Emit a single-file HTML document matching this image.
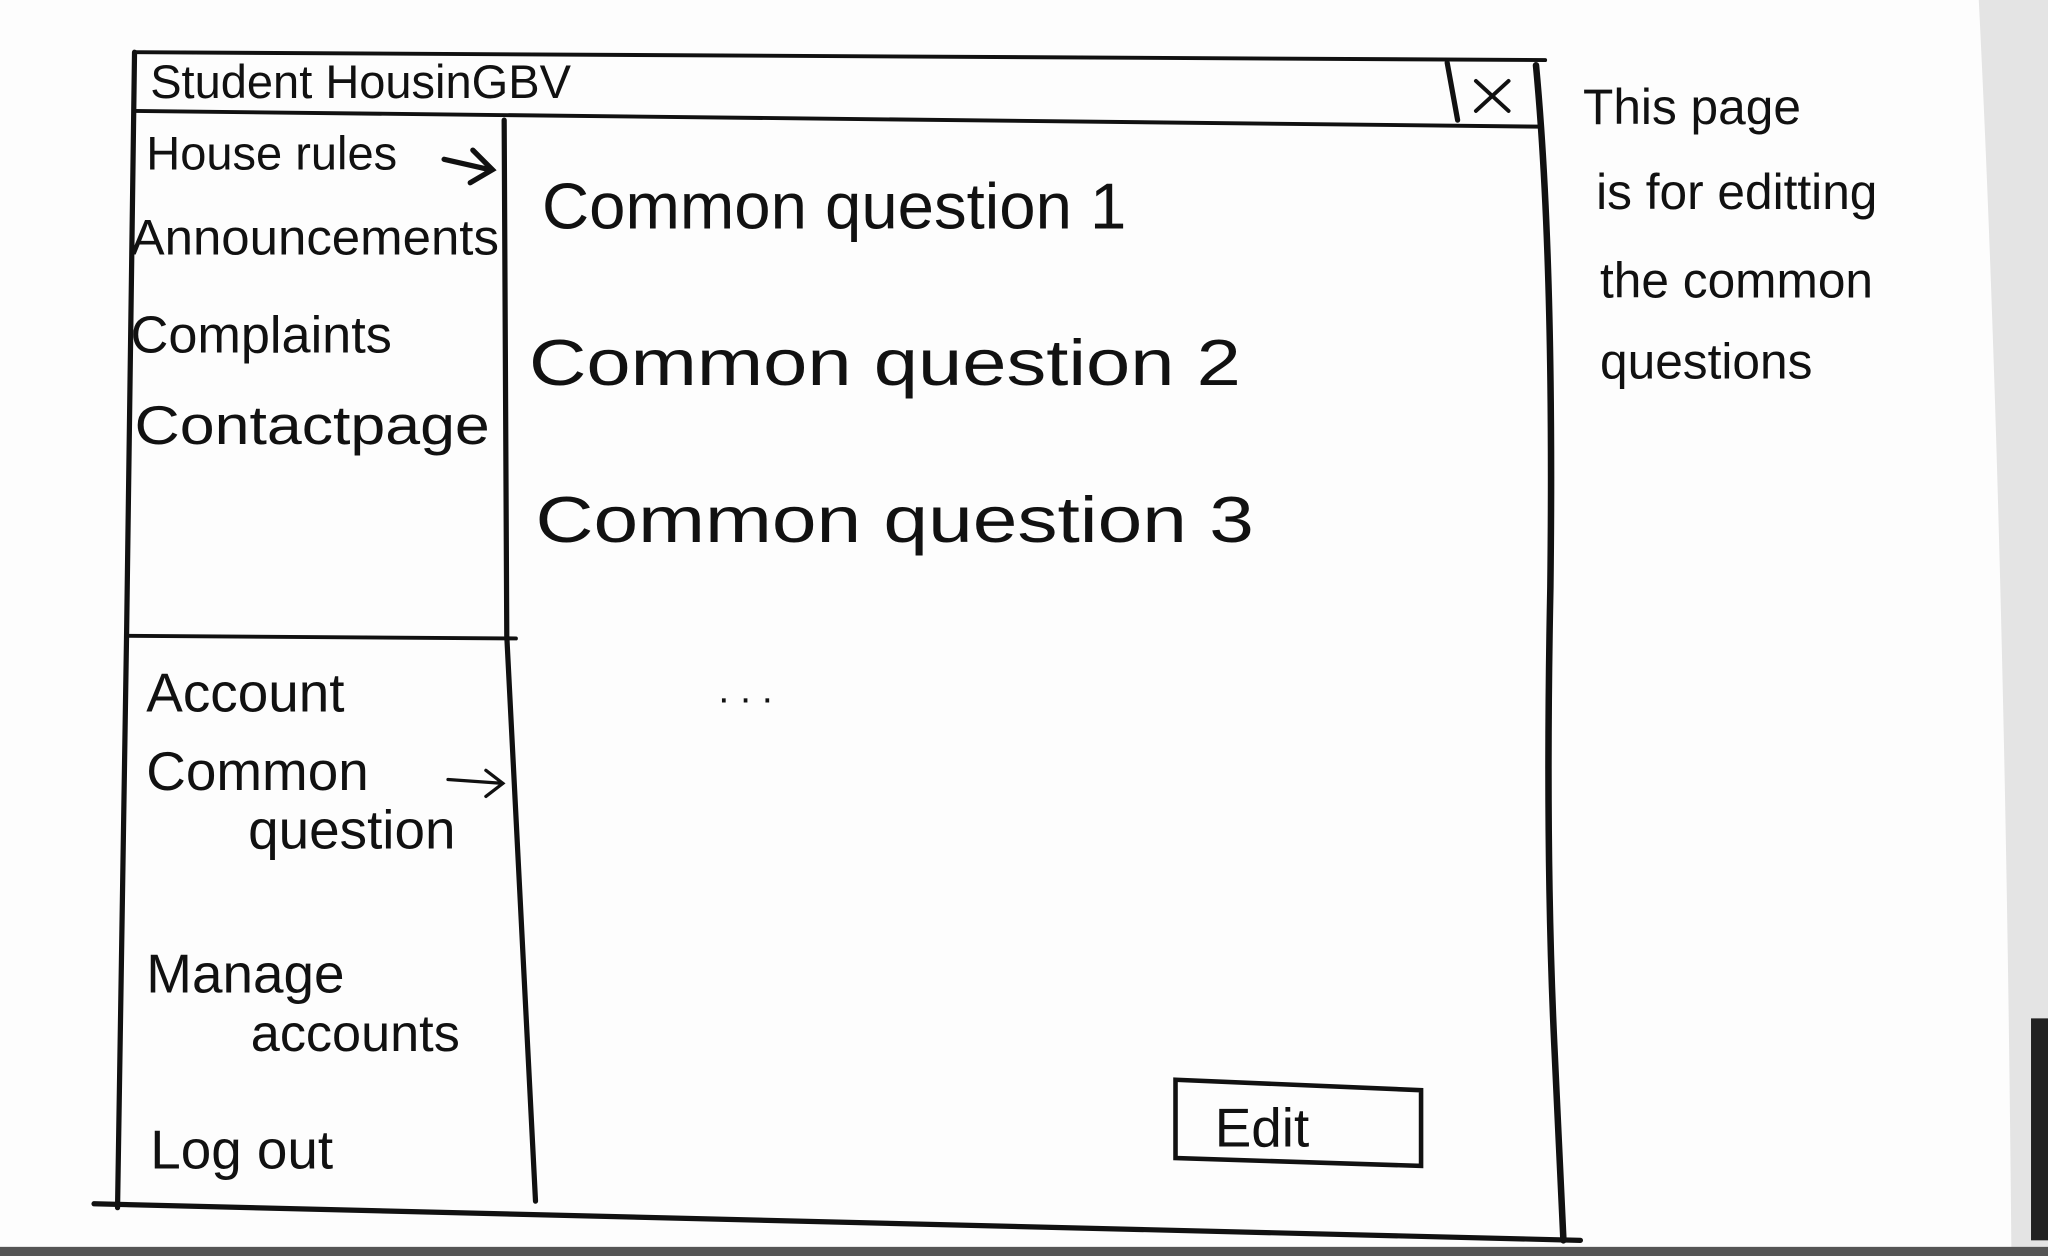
<!DOCTYPE html>
<html><head><style>html,body{margin:0;padding:0;background:#fff;overflow:hidden}svg{display:block}</style></head>
<body>
<svg width="2048" height="1256" viewBox="0 0 1568 962" preserveAspectRatio="none" xmlns="http://www.w3.org/2000/svg">
<rect width="1568" height="962" fill="#fdfdfd"/>
<path d="M1515 0 L1568 0 L1568 962 L1540 962 Q1535 400 1515 0Z" fill="#e4e4e4"/>
<rect x="1555" y="780" width="13" height="170" fill="#222"/>
<rect x="0" y="955" width="1568" height="7" fill="#555"/>
<g stroke="#111" fill="none" stroke-linecap="round">
<path d="M103 40 L1183 46" stroke-width="3"/>
<path d="M103 40 L97 480 L90 925" stroke-width="4"/>
<path d="M1176 50 Q1190 200 1187 450 Q1183 650 1190 800 L1197 950" stroke-width="5"/>
<path d="M72 922 L1210 950" stroke-width="4"/>
<path d="M103 85 L1178 97" stroke-width="3"/>
<path d="M1108 48 L1116 92" stroke-width="4"/>
<path d="M386 92 L388 487 L410 920" stroke-width="4"/>
<path d="M97 487 L395 489" stroke-width="3"/>
<path d="M900 827 L1088 835 L1088 893 L900 887 Z" stroke-width="3.5"/>
<path d="M1130 62 L1155 85 M1155 62 L1130 85" stroke-width="3"/>
<path d="M343 597 L385 600 M372 590 L385 600 L372 610" stroke-width="2.5"/>
<path d="M340 122 L375 130 M362 115 L377 130 L360 140" stroke-width="4"/>
</g>
<g font-family="Liberation Sans, sans-serif" fill="#111">
<text x="115" y="75" font-size="36">Student HousinGBV</text>
<text x="112" y="130" font-size="36">House rules</text>
<text x="100" y="195" font-size="38" textLength="282" lengthAdjust="spacingAndGlyphs">Announcements</text>
<text x="100" y="270" font-size="40">Complaints</text>
<text x="103" y="340" font-size="42" textLength="272" lengthAdjust="spacingAndGlyphs">Contactpage</text>
<text x="415" y="175" font-size="50">Common question 1</text>
<text x="405" y="295" font-size="50" textLength="545" lengthAdjust="spacingAndGlyphs">Common question 2</text>
<text x="410" y="415" font-size="50" textLength="550" lengthAdjust="spacingAndGlyphs">Common question 3</text>
<text x="550" y="538" font-size="30">. . .</text>
<text x="112" y="545" font-size="42">Account</text>
<text x="112" y="605" font-size="42">Common</text>
<text x="190" y="650" font-size="42">question</text>
<text x="112" y="760" font-size="42">Manage</text>
<text x="192" y="805" font-size="40">accounts</text>
<text x="115" y="895" font-size="42">Log out</text>
<text x="930" y="878" font-size="42">Edit</text>
<text x="1212" y="95" font-size="38">This page</text>
<text x="1222" y="160" font-size="38">is for editting</text>
<text x="1225" y="228" font-size="38">the common</text>
<text x="1225" y="290" font-size="38">questions</text>
</g>
</svg>
</body></html>
